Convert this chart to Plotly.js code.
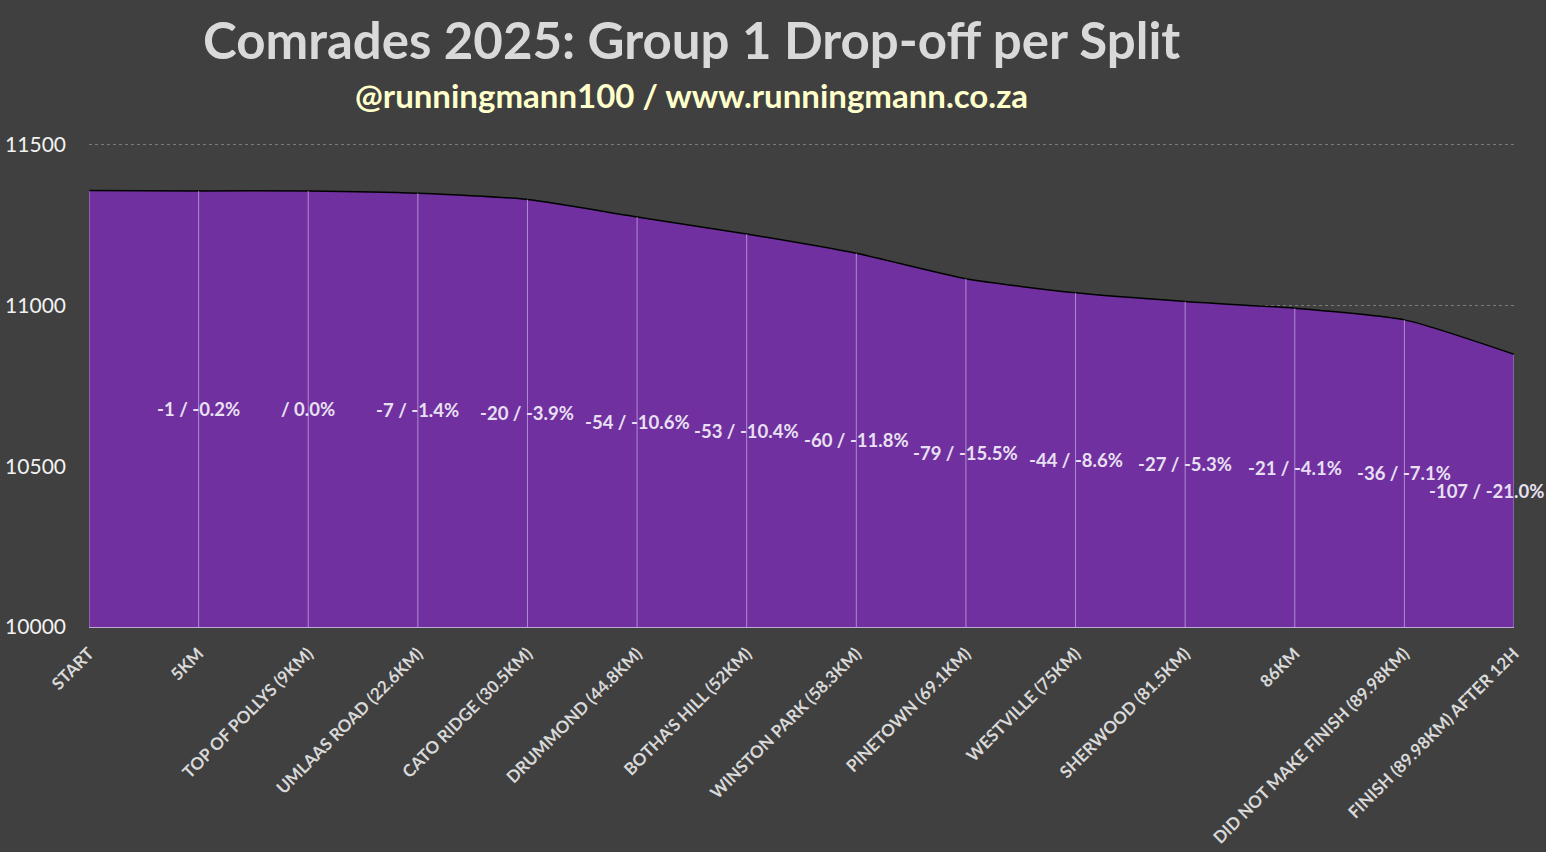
<!DOCTYPE html>
<html>
<head>
<meta charset="utf-8">
<script src="https://cdn.plot.ly/plotly-3.0.1.min.js"></script>
<style>
  html, body { margin: 0; padding: 0; background: #404040; }
  #chart { width: 1546px; height: 852px; }
</style>
</head>
<body>
<div id="chart"></div>
<script>
// split names along the route
let splits = [
    "START", "5KM", "TOP OF POLLYS (9KM)", "UMLAAS ROAD (22.6KM)", "CATO RIDGE (30.5KM)",
    "DRUMMOND (44.8KM)", "BOTHA'S HILL (52KM)", "WINSTON PARK (58.3KM)", "PINETOWN (69.1KM)",
    "WESTVILLE (75KM)", "SHERWOOD (81.5KM)", "86KM", "DID NOT MAKE FINISH (89.98KM)",
    "FINISH (89.98KM) AFTER 12H"
];

// runners still in the race at each split
let runners = [11357, 11356, 11356, 11349, 11329, 11275, 11222, 11162, 11083, 11039, 11012, 10991, 10955, 10848];

let axis_base = 10000;
let axis_top = 11505;   // a hair above 11500 so the top gridline is still drawn
let y_ticks = [10000, 10500, 11000, 11500];

// drop per split and share of the total drop
let drops = [];
for (let i = 1; i < runners.length; ++i) {
    drops.push(runners[i] - runners[i - 1]);
}
let total_drop = drops.reduce(function (a, b) { return a + b; }, 0);

// data labels, centred in the area below each point
let label_annotations = [];
for (let i = 1; i < runners.length; ++i) {
    let d = drops[i - 1];
    let pct = (d / Math.abs(total_drop) * 100).toFixed(1);
    if (d === 0) pct = "0.0";
    label_annotations.push({
        x: splits[i],
        y: (axis_base + runners[i]) / 2,
        xref: 'x', yref: 'y',
        text: (d === 0 ? "" : d + " ") + "/ " + pct + "%",
        showarrow: false,
        xanchor: 'center',
        yanchor: 'middle',
        xshift: (i === runners.length - 1) ? -28 : 0,
        font: { family: 'Lato, "Open Sans", sans-serif', size: 18.5, color: '#E8E0F2', weight: 'bold' }
    });
}

// drop lines from each point down to the axis
let drop_x = [];
let drop_y = [];
for (let i = 0; i < runners.length; ++i) {
    drop_x.push(splits[i], splits[i], null);
    drop_y.push(axis_base, runners[i], null);
}

let area = {
    x: splits,
    y: runners,
    mode: 'lines',
    fill: 'tozeroy',
    fillcolor: '#7030A0',
    line: { color: '#000000', width: 1.5, shape: 'spline', smoothing: 0.6 },
    hoverinfo: 'x+y',
    showlegend: false
};

let droplines = {
    x: drop_x,
    y: drop_y,
    mode: 'lines',
    line: { color: 'rgba(230,215,245,0.55)', width: 1 },
    hoverinfo: 'skip',
    showlegend: false
};

let layout = {
    width: 1546,
    height: 852,
    paper_bgcolor: '#404040',
    plot_bgcolor: '#404040',
    margin: { l: 89, r: 32, t: 143, b: 225 },
    font: { family: 'Lato, "Open Sans", sans-serif', color: '#D9D9D9' },
    xaxis: {
        type: 'category',
        range: [0, splits.length - 1],
        tickangle: -45,
        tickfont: { size: 17, color: '#D9D9D9', weight: 'bold' },
        ticklabelstandoff: 9,
        showgrid: false,
        zeroline: false,
        showline: true,
        linecolor: '#BFA8D6',
        linewidth: 1,
        ticks: '',
        fixedrange: true
    },
    yaxis: {
        range: [axis_base, axis_top],
        tickvals: y_ticks,
        ticktext: y_ticks.map(String),
        tickfont: { size: 21, color: '#F2F2F2' },
        ticklabelstandoff: 22,
        showgrid: true,
        gridcolor: '#7A7A7A',
        griddash: 'dot',
        gridwidth: 1,
        zeroline: false,
        showline: false,
        ticks: '',
        fixedrange: true
    },
    annotations: [
        {
            text: 'Comrades 2025: Group 1 Drop-off per Split',
            font: { size: 51, color: '#D9D9D9', weight: 'bold' },
            showarrow: false,
            xref: 'paper', yref: 'paper',
            x: 0.4225, y: 1 + (145 - 41) / 484,
            xanchor: 'center', yanchor: 'middle'
        },
        {
            text: '@runningmann100 / www.runningmann.co.za',
            font: { size: 33, color: '#FFFFCC', weight: 'bold' },
            showarrow: false,
            xref: 'paper', yref: 'paper',
            x: 0.4225, y: 1 + (145 - 97) / 484,
            xanchor: 'center', yanchor: 'middle'
        }
    ].concat(label_annotations)
};

Plotly.newPlot('chart', [area, droplines], layout, { displayModeBar: false, staticPlot: true });
</script>
</body>
</html>
